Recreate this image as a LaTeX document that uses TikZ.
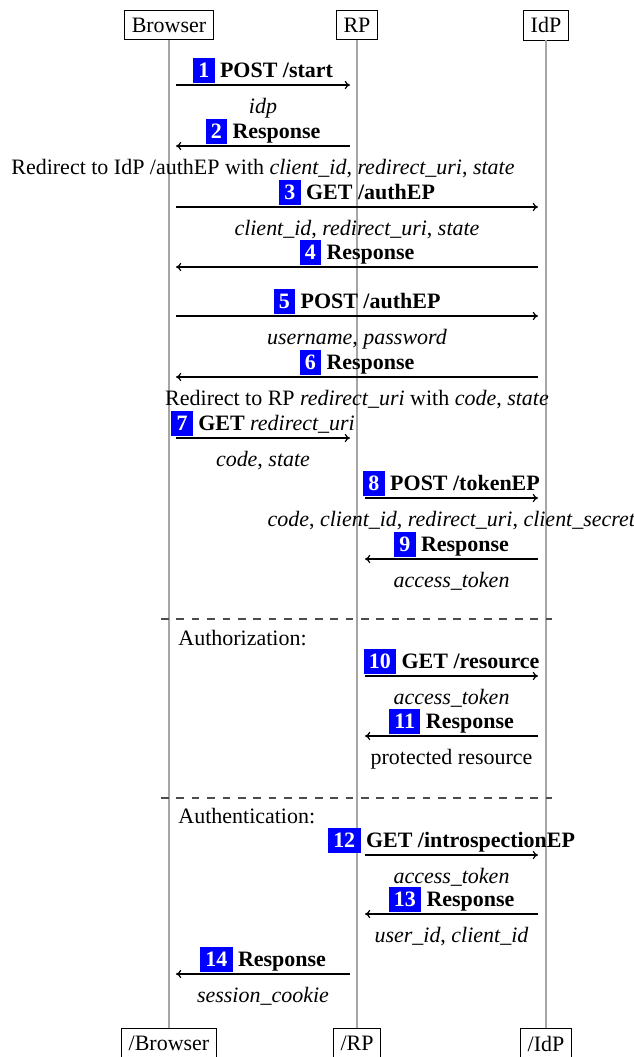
\documentclass[tikz,border=0pt]{standalone}
\usepackage{fontspec}
\setmainfont{Liberation Serif}
\usetikzlibrary{positioning, arrows.meta}

\newcommand{\stepno}[1]{{\setlength{\fboxsep}{2.4pt}\colorbox{blue}{\textcolor{white}{\bfseries #1}}}}

\tikzset{
	party/.style={draw, thin, inner sep=3.33pt},
	lifeline/.style={black!35, line width=0.6pt},
	msg/.style={-{To[length=2.4pt, width=3.8pt]}, line width=0.55pt},
	msglabel/.style={anchor=base, inner sep=0pt, yshift=3.2pt},
	msgdesc/.style={anchor=base, inner sep=0pt, yshift=-12.8pt},
	divider/.style={black!70, line width=0.5pt, dash pattern=on 3.5pt off 3.5pt},
	section/.style={anchor=base west, inner sep=0pt}
}

\begin{document}
\begin{tikzpicture}[x=0.455pt, y=-0.455pt]
	\useasboundingbox (0,0) rectangle (634,1057);
	
	% parties and life lines
	\node[party] (br) at (169,25) {Browser};
	\node[party] (rp) at (357,25) {RP};
	\node[party] (idp) at (546,25) {IdP};
	\node[party, anchor=north] (brEnd) at (169,1028) {/Browser};
	\node[party, anchor=north] (rpEnd) at (357,1028) {/RP};
	\node[party, anchor=north] (idpEnd) at (546,1028) {/IdP};
	
	\foreach \a/\b in {br/brEnd, rp/rpEnd, idp/idpEnd}
	\draw[lifeline] (\a) -- (\b);
	
	% end points of the messages
	\foreach \n/\y in {1/85, 2/146, 3/207, 4/267, 5/316, 6/377, 7/438, 8/498, 9/559, 10/676, 11/736, 12/855, 13/914, 14/974}
	{
		\coordinate (b\n) at (176,\y);
		\coordinate (rl\n) at (350,\y);
		\coordinate (rr\n) at (365,\y);
		\coordinate (i\n) at (538,\y);
	}
	
	\draw[msg] (b1) -- (rl1) node[msglabel, midway] (t1) {\stepno{1} \textbf{POST /start}}
		node[msgdesc, midway] (d1) {\textit{idp}};
	\draw[msg] (rl2) -- (b2) node[msglabel, midway] (t2) {\stepno{2} \textbf{Response}}
		node[msgdesc, midway] (d2) {Redirect to IdP /authEP with \textit{client\_id}, \textit{redirect\_uri}, \textit{state}};
	\draw[msg] (b3) -- (i3) node[msglabel, midway] (t3) {\stepno{3} \textbf{GET /authEP}}
		node[msgdesc, midway] (d3) {\textit{client\_id}, \textit{redirect\_uri}, \textit{state}};
	\draw[msg] (i4) -- (b4) node[msglabel, midway] (t4) {\stepno{4} \textbf{Response}};
	\draw[msg] (b5) -- (i5) node[msglabel, midway] (t5) {\stepno{5} \textbf{POST /authEP}}
		node[msgdesc, midway] (d5) {\textit{username}, \textit{password}};
	\draw[msg] (i6) -- (b6) node[msglabel, midway] (t6) {\stepno{6} \textbf{Response}}
		node[msgdesc, midway] (d6) {Redirect to RP \textit{redirect\_uri} with \textit{code}, \textit{state}};
	\draw[msg] (b7) -- (rl7) node[msglabel, midway] (t7) {\stepno{7} \textbf{GET} \textit{redirect\_uri}}
		node[msgdesc, midway] (d7) {\textit{code}, \textit{state}};
	\draw[msg] (rr8) -- (i8) node[msglabel, midway] (t8) {\stepno{8} \textbf{POST /tokenEP}}
		node[msgdesc, midway] (d8) {\textit{code}, \textit{client\_id}, \textit{redirect\_uri}, \textit{client\_secret}};
	\draw[msg] (i9) -- (rr9) node[msglabel, midway] (t9) {\stepno{9} \textbf{Response}}
		node[msgdesc, midway] (d9) {\textit{access\_token}};
	
	% authorization
	\draw[divider] (161,619) -- (552,619);
	\node[section] (authz) at (178,645) {Authorization:};
	\draw[msg] (rr10) -- (i10) node[msglabel, midway] (t10) {\stepno{10} \textbf{GET /resource}}
		node[msgdesc, midway] (d10) {\textit{access\_token}};
	\draw[msg] (i11) -- (rr11) node[msglabel, midway] (t11) {\stepno{11} \textbf{Response}}
		node[msgdesc, midway] (d11) {protected resource};
	
	% authentication
	\draw[divider] (161,798) -- (552,798);
	\node[section] (authn) at (178,823) {Authentication:};
	\draw[msg] (rr12) -- (i12) node[msglabel, midway] (t12) {\stepno{12} \textbf{GET /introspectionEP}}
		node[msgdesc, midway] (d12) {\textit{access\_token}};
	\draw[msg] (i13) -- (rr13) node[msglabel, midway] (t13) {\stepno{13} \textbf{Response}}
		node[msgdesc, midway] (d13) {\textit{user\_id}, \textit{client\_id}};
	\draw[msg] (rl14) -- (b14) node[msglabel, midway] (t14) {\stepno{14} \textbf{Response}}
		node[msgdesc, midway] (d14) {\textit{session\_cookie}};
	
\end{tikzpicture}
\end{document}
